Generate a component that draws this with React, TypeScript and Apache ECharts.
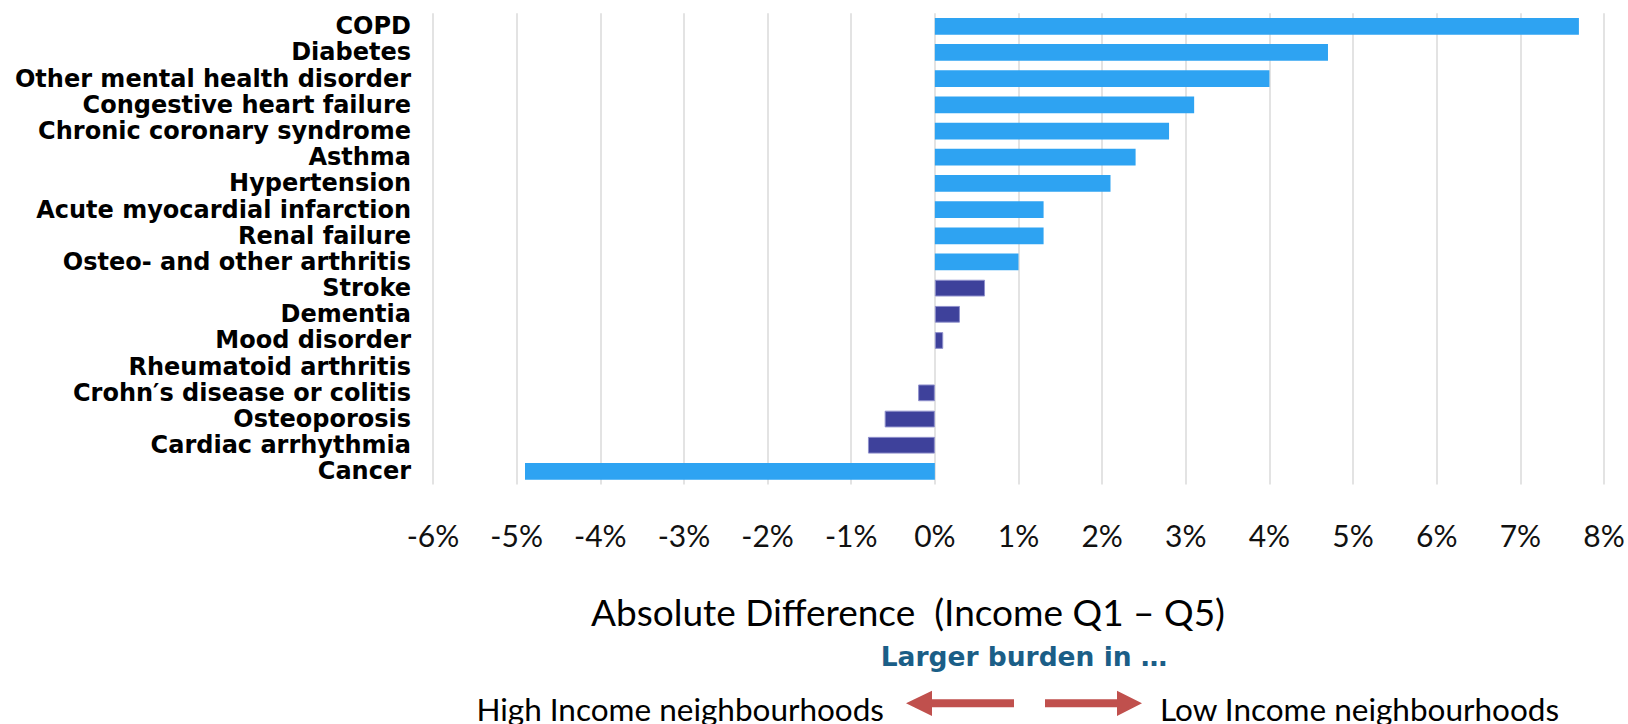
import React, { useEffect, useRef } from "react";
import * as echarts from "echarts";

const categories = [
  "COPD",
  "Diabetes",
  "Other mental health disorder",
  "Congestive heart failure",
  "Chronic coronary syndrome",
  "Asthma",
  "Hypertension",
  "Acute myocardial infarction",
  "Renal failure",
  "Osteo- and other arthritis",
  "Stroke",
  "Dementia",
  "Mood disorder",
  "Rheumatoid arthritis",
  "Crohn\u2032s disease or colitis",
  "Osteoporosis",
  "Cardiac arrhythmia",
  "Cancer",
];

// absolute difference in percentage points (Income Q1 - Q5)
const values = [7.7, 4.7, 4.0, 3.1, 2.8, 2.4, 2.1, 1.3, 1.3, 1.0, 0.6, 0.3, 0.1, 0, -0.2, -0.6, -0.8, -4.9];
// true = light blue bar, false = dark bar
const significant = [true, true, true, true, true, true, true, true, true, true, false, false, false, false, false, false, false, true];

const xMin = -6;
const xMax = 8;
const xInterval = 1;

const axisTitle = "Absolute Difference  (Income Q1 \u2013 Q5)";
const burdenTitle = "Larger burden in \u2026";
const leftLabel = "High Income neighbourhoods";
const rightLabel = "Low Income neighbourhoods";

const LIGHT = "#2EA3F2";
const DARK = "#3E419B";

export default function App() {
  const ref = useRef<HTMLDivElement>(null);
  useEffect(() => {
    document.body.style.margin = "0";
    const chart = echarts.init(ref.current!, null, { renderer: "svg" });
    const font = "Lato, 'Noto Sans', sans-serif";
    chart.setOption({
      animation: false,
      grid: { left: 433, right: 24, top: 13.2, bottom: 239.5, containLabel: false },
      xAxis: {
        type: "value",
        min: xMin,
        max: xMax,
        interval: xInterval,
        axisLine: { show: false },
        axisTick: { show: false },
        splitLine: { show: true, lineStyle: { color: "#E3E3E3", width: 2 } },
        axisLabel: {
          formatter: (v: number) => `${v}%`,
          fontSize: 30,
          fontFamily: font,
          color: "#111",
          margin: 35,
        },
      },
      yAxis: {
        type: "category",
        data: categories,
        inverse: true,
        axisLine: { show: false },
        axisTick: { show: false },
        splitLine: { show: false },
        axisLabel: {
          fontSize: 24,
          lineHeight: 26,
          fontWeight: "bold",
          fontFamily: "'DejaVu Sans', sans-serif",
          color: "#000",
          margin: 22,
          interval: 0,
          padding: [2, 0, 0, 0],
        },
      },
      series: [
        {
          type: "bar",
          barCategoryGap: "36%",
          data: values.map((v, i) => ({
            value: v,
            itemStyle: significant[i]
              ? { color: LIGHT }
              : v === 0
              ? { color: DARK }
              : { color: DARK, borderColor: "#8F90CC", borderWidth: 1 },
          })),
        },
      ],
      graphic: [
        {
          type: "text",
          x: 908,
          y: 611,
          style: {
            text: axisTitle,
            align: "center",
            verticalAlign: "middle",
            fontSize: 37,
            fontFamily: font,
            fill: "#000",
          },
        },
        {
          type: "text",
          x: 1024,
          y: 656,
          style: {
            text: burdenTitle,
            align: "center",
            verticalAlign: "middle",
            fontSize: 26.5,
            fontWeight: "bold",
            fontFamily: "'DejaVu Sans', sans-serif",
            fill: "#1B5E87",
          },
        },
        {
          type: "text",
          x: 884,
          y: 709,
          style: {
            text: leftLabel,
            align: "right",
            verticalAlign: "middle",
            fontSize: 31.5,
            fontFamily: font,
            fill: "#000",
          },
        },
        {
          type: "text",
          x: 1160,
          y: 709,
          style: {
            text: rightLabel,
            align: "left",
            verticalAlign: "middle",
            fontSize: 31.5,
            fontFamily: font,
            fill: "#000",
          },
        },
        {
          type: "polygon",
          shape: {
            points: [
              [906, 703.3],
              [932, 690.7],
              [932, 699.3],
              [1014, 699.3],
              [1014, 707.3],
              [932, 707.3],
              [932, 716],
            ],
          },
          style: { fill: "#C0504D" },
        },
        {
          type: "polygon",
          shape: {
            points: [
              [1142, 703.3],
              [1117, 690.7],
              [1117, 699.3],
              [1045, 699.3],
              [1045, 707.3],
              [1117, 707.3],
              [1117, 716],
            ],
          },
          style: { fill: "#C0504D" },
        },
      ],
    });
    return () => chart.dispose();
  }, []);
  return <div ref={ref} style={{ width: 1628, height: 724 }} />;
}
